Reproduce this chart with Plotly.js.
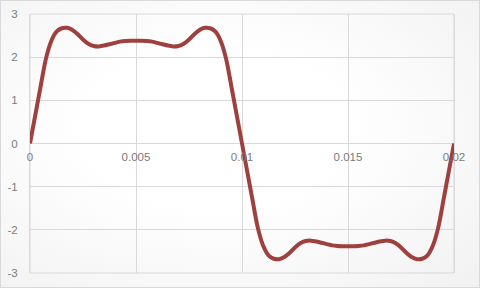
<!DOCTYPE html>
<html>
<head>
<meta charset="utf-8">
<script src="https://cdn.plot.ly/plotly-3.0.1.min.js"></script>
<style>
  html, body { margin: 0; padding: 0; }
  #chart {
    width: 478px; height: 286px;
    border: 1px solid #d9d9d9;
    background: radial-gradient(ellipse at 45% 45%, #ffffff 35%, #f1f1f1 100%);
  }
</style>
</head>
<body>
<div id="chart"></div>
<script>
// time (s)
const timeValues = [
  0, 0.00025, 0.0005, 0.00075, 0.001, 0.00125, 0.0015, 0.00175, 0.002, 0.00225,
  0.0025, 0.00275, 0.003, 0.00325, 0.0035, 0.00375, 0.004, 0.00425, 0.0045, 0.00475,
  0.005, 0.00525, 0.0055, 0.00575, 0.006, 0.00625, 0.0065, 0.00675, 0.007, 0.00725,
  0.0075, 0.00775, 0.008, 0.00825, 0.0085, 0.00875, 0.009, 0.00925, 0.0095, 0.00975,
  0.01, 0.01025, 0.0105, 0.01075, 0.011, 0.01125, 0.0115, 0.01175, 0.012, 0.01225,
  0.0125, 0.01275, 0.013, 0.01325, 0.0135, 0.01375, 0.014, 0.01425, 0.0145, 0.01475,
  0.015, 0.01525, 0.0155, 0.01575, 0.016, 0.01625, 0.0165, 0.01675, 0.017, 0.01725,
  0.0175, 0.01775, 0.018, 0.01825, 0.0185, 0.01875, 0.019, 0.01925, 0.0195, 0.01975,
  0.02
];
// signal value
const signalValues = [
  0, 0.66, 1.32, 1.96, 2.37, 2.59, 2.67, 2.68, 2.63, 2.53,
  2.41, 2.31, 2.26, 2.25, 2.27, 2.30, 2.33, 2.36, 2.375, 2.38,
  2.38, 2.38, 2.375, 2.36, 2.33, 2.30, 2.27, 2.25, 2.26, 2.31,
  2.41, 2.53, 2.63, 2.68, 2.67, 2.59, 2.37, 1.96, 1.32, 0.66,
  0, -0.66, -1.32, -1.96, -2.37, -2.59, -2.67, -2.68, -2.63, -2.53,
  -2.41, -2.31, -2.26, -2.25, -2.27, -2.30, -2.33, -2.36, -2.375, -2.38,
  -2.38, -2.38, -2.375, -2.36, -2.33, -2.30, -2.27, -2.25, -2.26, -2.31,
  -2.41, -2.53, -2.63, -2.68, -2.67, -2.59, -2.37, -1.96, -1.32, -0.66,
  0
];
const xTickVals = [0, 0.005, 0.01, 0.015, 0.02];
const xTickText = ['0', '0.005', '0.01', '0.015', '0.02'];
const yTickVals = [-3, -2, -1, 0, 1, 2, 3];
const yTickText = ['-3', '-2', '-1', '0', '1', '2', '3'];

const gridColor = '#d9d9d9';
const labelFont = { family: 'Liberation Sans, Arial, sans-serif', size: 11.5, color: '#7b7b7b' };

Plotly.newPlot('chart', [{
  type: 'scatter',
  mode: 'lines',
  x: timeValues,
  y: signalValues,
  line: { color: '#9e413e', width: 4, shape: 'spline', smoothing: 0.8 },
  hoverinfo: 'skip'
}], {
  width: 478, height: 286,
  paper_bgcolor: 'rgba(0,0,0,0)',
  plot_bgcolor: 'rgba(0,0,0,0)',
  margin: { l: 29, r: 25, t: 13, b: 14 },
  showlegend: false,
  shapes: [{
    type: 'rect', xref: 'paper', yref: 'paper', x0: 0, x1: 1, y0: 0, y1: 1,
    line: { color: gridColor, width: 1 }, layer: 'below'
  }],
  xaxis: {
    range: [0, 0.02],
    tickvals: xTickVals, ticktext: xTickText,
    anchor: 'free', position: 0.5,
    showgrid: true, gridcolor: gridColor, gridwidth: 1,
    zeroline: false, showline: false,
    ticks: '', ticklabelstandoff: 5,
    tickfont: labelFont, fixedrange: true
  },
  yaxis: {
    range: [-3, 3],
    tickvals: yTickVals, ticktext: yTickText,
    showgrid: true, gridcolor: gridColor, gridwidth: 1,
    zeroline: true, zerolinecolor: gridColor, zerolinewidth: 1,
    showline: true, linecolor: gridColor, linewidth: 1, mirror: true,
    ticks: '', ticklabelstandoff: 9,
    tickfont: labelFont, fixedrange: true
  }
}, { displayModeBar: false, staticPlot: true });
</script>
</body>
</html>
